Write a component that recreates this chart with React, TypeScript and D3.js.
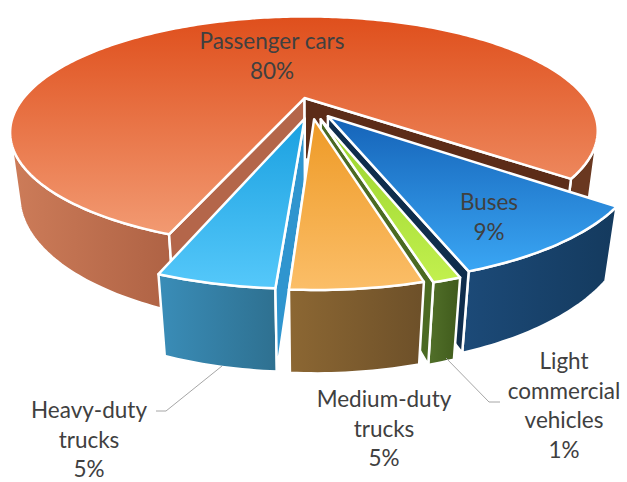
import React from "react";
import * as d3 from "d3";

const categories = ["Passenger cars", "Buses", "Light commercial vehicles", "Medium-duty trucks", "Heavy-duty trucks"];
const values = [80.2, 9.0, 1.1, 5.1, 4.6];
const labelLines = [
  ["Passenger cars", "80%"],
  ["Buses", "9%"],
  ["Light", "commercial", "vehicles", "1%"],
  ["Medium-duty", "trucks", "5%"],
  ["Heavy-duty", "trucks", "5%"],
];

// styling / layout config
const W = 627, H = 482;
const explode = [0.086, 0.1, 0.113, 0.107, 0.104];
const topColors = [
  ["#df4f1c", "#f29a72"],
  ["#1563b8", "#3aa6f4"],
  ["#98d22c", "#c2f04e"],
  ["#ee9a26", "#fbbe68"],
  ["#1aa0e0", "#55c8fa"],
];
const sideColors = [
  ["#cd7c59", "#ae6244"],
  ["#1c4a78", "#143a5e"],
  ["#52702a", "#3f5a1b"],
  ["#8c6733", "#6d5029"],
  ["#3a8db8", "#2e7090"],
];
const sideColorsRight = ["#6a3820", "#1c4a78", "#52702a", "#8c6733", "#2e7090"];
const wallColors = [
  ["#5c2c18", "#b4664a"],
  ["#0f2d4c", "#0f2d4c"],
  ["#4b6a22", "#6a9a2a"],
  ["#9a6a2a", "#c88a30"],
  ["#2a7eb2", "#2f95cf"],
];
const labelPos = [
  [272, 49],
  [489, 210],
  [564, 369],
  [384, 407],
  [89, 418],
];
const lineH = 29.5;

// camera
const S = 288;
const elev = (22.6 * Math.PI) / 180;
const sE = Math.sin(elev), cE = Math.cos(elev);
const Dist = 3.09;
const cx = 311, cy = 107;
const h = 0.24;
const startDeg = 110.1;

function proj(x: number, y: number, z: number): [number, number] {
  const depth = z * cE + y * sE;
  const w = Dist / (Dist - depth);
  return [cx + S * x * w, cy + S * (z * sE - y * cE) * w];
}
const cam = [0, Dist * sE, Dist * cE];
function visible(p: number[], n: number[]) {
  return (cam[0] - p[0]) * n[0] + (cam[1] - p[1]) * n[1] + (cam[2] - p[2]) * n[2] > 0;
}

type Face = { pts: [number, number][]; fill: string; key: string };

export default function App() {
  const total = d3.sum(values);
  const angScale = d3.scaleLinear().domain([0, total]).range([startDeg, startDeg + 360]);
  const cum = d3.cumsum(values);
  const slices = values.map((v, i) => {
    const a0 = (angScale(cum[i] - v) * Math.PI) / 180;
    const a1 = (angScale(cum[i]) * Math.PI) / 180;
    const mid = (a0 + a1) / 2;
    const ox = explode[i] * Math.cos(mid);
    const oz = explode[i] * Math.sin(mid);
    return { i, a0, a1, mid, ox, oz };
  });

  const drawSlice = (sl: (typeof slices)[number]) => {
    const { i, a0, a1, ox, oz } = sl;
    const faces: Face[] = [];
    const n = Math.max(4, Math.ceil(((a1 - a0) * 180) / Math.PI));
    const angs = d3.range(n + 1).map((k) => a0 + ((a1 - a0) * k) / n);
    const vis = angs.map((a) => visible([ox + Math.cos(a), 0, oz + Math.sin(a)], [Math.cos(a), 0, Math.sin(a)]));
    let run: number[] = [];
    const runs: number[][] = [];
    angs.forEach((a, k) => {
      if (vis[k]) run.push(a);
      else {
        if (run.length > 1) runs.push(run);
        run = [];
      }
    });
    if (run.length > 1) runs.push(run);
    runs.forEach((r, ri) => {
      const topA = r.map((a) => proj(ox + Math.cos(a), 0, oz + Math.sin(a)));
      const botA = r.map((a) => proj(ox + Math.cos(a), -h, oz + Math.sin(a))).reverse();
      const midA = r[Math.floor(r.length / 2)];
      const right = Math.cos(midA) > 0.2 && i === 0;
      faces.push({ pts: [...topA, ...botA], fill: right ? sideColorsRight[i] : `url(#side${i})`, key: `o${i}-${ri}` });
    });
    const apexT = proj(ox, 0, oz), apexB = proj(ox, -h, oz);
    const w0n = [Math.sin(a0), 0, -Math.cos(a0)];
    const w1n = [-Math.sin(a1), 0, Math.cos(a1)];
    const wp0 = [ox + 0.5 * Math.cos(a0), -h / 2, oz + 0.5 * Math.sin(a0)];
    const wp1 = [ox + 0.5 * Math.cos(a1), -h / 2, oz + 0.5 * Math.sin(a1)];
    if (visible(wp0, w0n)) {
      faces.push({
        pts: [apexT, proj(ox + Math.cos(a0), 0, oz + Math.sin(a0)), proj(ox + Math.cos(a0), -h, oz + Math.sin(a0)), apexB],
        fill: wallColors[i][1],
        key: `w0-${i}`,
      });
    }
    if (visible(wp1, w1n)) {
      faces.push({
        pts: [apexT, proj(ox + Math.cos(a1), 0, oz + Math.sin(a1)), proj(ox + Math.cos(a1), -h, oz + Math.sin(a1)), apexB],
        fill: wallColors[i][0],
        key: `w1-${i}`,
      });
    }
    faces.push({
      pts: [apexT, ...angs.map((a) => proj(ox + Math.cos(a), 0, oz + Math.sin(a)))],
      fill: `url(#top${i})`,
      key: `t${i}`,
    });
    return faces;
  };

  const depthOf = (sl: (typeof slices)[number]) => (sl.oz + 0.6 * Math.sin(sl.mid)) * cE;
  const order = [slices[0], ...slices.slice(1).sort((a, b) => depthOf(a) - depthOf(b))];
  const line = d3.line();

  return (
    <svg width={W} height={H} style={{ position: "absolute", left: 0, top: 0, background: "#fff" }}>
      <defs>
        {values.map((_, i) => (
          <linearGradient key={`gt${i}`} id={`top${i}`} x1="0" y1="0" x2="0" y2="1">
            <stop offset="0" stopColor={topColors[i][0]} />
            <stop offset="1" stopColor={topColors[i][1]} />
          </linearGradient>
        ))}
        {values.map((_, i) => (
          <linearGradient key={`gs${i}`} id={`side${i}`} x1="0" y1="0" x2="1" y2="0">
            <stop offset="0" stopColor={sideColors[i][0]} />
            <stop offset="1" stopColor={sideColors[i][1]} />
          </linearGradient>
        ))}
      </defs>
      {order.map((sl) =>
        drawSlice(sl).map((f) => (
          <path key={f.key} d={line(f.pts) + "Z"} fill={f.fill} stroke="#fff" strokeWidth={2.5} strokeLinejoin="round" />
        ))
      )}
      <g fill="none" stroke="#a6a6a6" strokeWidth={1}>
        <polyline points="156,411 166,411 222,366" />
        <polyline points="446,358 489,402 500,402" />
      </g>
      <g fontFamily="Lato, 'Open Sans', sans-serif" fontSize={22.5} fill="#404040" textAnchor="middle">
        {labelLines.map((lines, i) => (
          <text key={categories[i]} x={labelPos[i][0]} y={labelPos[i][1]}>
            {lines.map((t, k) => (
              <tspan key={k} x={labelPos[i][0]} y={labelPos[i][1] + k * lineH}>
                {t}
              </tspan>
            ))}
          </text>
        ))}
      </g>
    </svg>
  );
}
